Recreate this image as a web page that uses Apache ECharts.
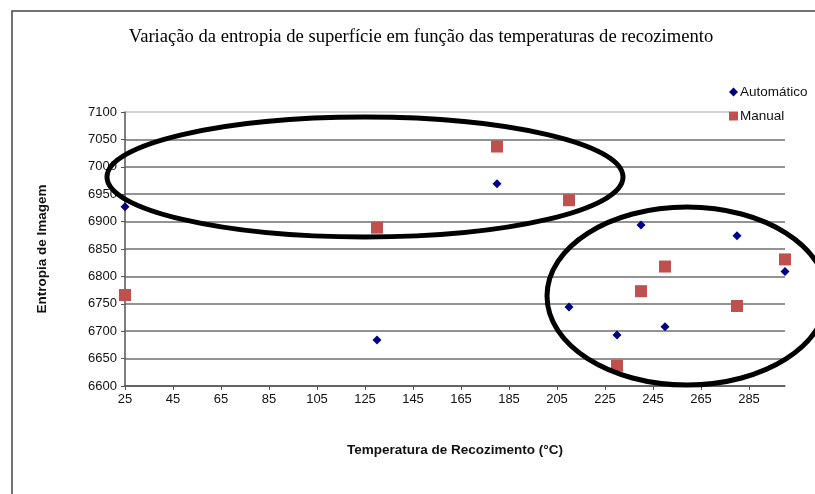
<!DOCTYPE html>
<html>
<head>
<meta charset="utf-8">
<script src="https://cdn.jsdelivr.net/npm/echarts@6/dist/echarts.min.js"></script>
<style>
  html, body { margin: 0; padding: 0; background: #fff; }
  #chart { width: 815px; height: 494px; }
</style>
</head>
<body>
<div id="chart"></div>
<script>
// temperaturas de recozimento (°C)
var temperaturas = [25, 130, 180, 210, 230, 240, 250, 280, 300];
// entropia por série
var automatico = [6927, 6684, 6969, 6744, 6693, 6894, 6708, 6874, 6809];
var manual = [6766, 6889, 7037, 6939, 6637, 6773, 6818, 6746, 6831];

function pares(xs, ys) {
  return xs.map(function (x, i) { return [x, ys[i]]; });
}

var chart = echarts.init(document.getElementById("chart"));

var fonteEixo = { fontFamily: "Liberation Sans", fontSize: 13, color: "#111" };

// linhas de grade: escuras, a de cima (7100) mais clara
var coresGrade = ["#6f6f6f", "#6f6f6f", "#6f6f6f", "#6f6f6f", "#6f6f6f", "#6f6f6f",
  "#6f6f6f", "#6f6f6f", "#6f6f6f", "#6f6f6f", "#c4c4c4"];

var option = {
  animation: false,
  backgroundColor: "#fff",
  title: {
    text: "Variação da entropia de superfície em função das temperaturas de recozimento",
    left: 416,
    textAlign: "center",
    top: 23,
    textStyle: {
      fontFamily: "Liberation Serif",
      fontWeight: "normal",
      fontSize: 18.6,
      color: "#000"
    }
  },
  legend: {
    orient: "vertical",
    left: 729,
    top: 83,
    padding: [2, 0, 2, 0],
    backgroundColor: "#fff",
    itemGap: 10,
    itemWidth: 9,
    itemHeight: 9,
    textStyle: { fontFamily: "Liberation Sans", fontSize: 13.5, color: "#111", padding: [0, 0, 0, -3] },
    data: [
      { name: "Automático", icon: "diamond" },
      { name: "Manual", icon: "rect" }
    ],
    z: 4
  },
  grid: { left: 125, right: 30, top: 112, bottom: 108 },
  xAxis: {
    type: "value",
    min: 25,
    max: 300,
    interval: 20,
    name: "Temperatura de Recozimento (°C)",
    nameLocation: "middle",
    nameGap: 57,
    nameTextStyle: { fontFamily: "Liberation Sans", fontWeight: "bold", fontSize: 13.5, color: "#111" },
    axisLine: { lineStyle: { color: "#555", width: 1.5 } },
    axisTick: { show: true, length: 4, lineStyle: { color: "#555" } },
    axisLabel: Object.assign({ showMaxLabel: false, margin: 7 }, fonteEixo),
    splitLine: { show: false }
  },
  yAxis: {
    type: "value",
    min: 6600,
    max: 7100,
    interval: 50,
    name: "Entropia de Imagem",
    nameLocation: "middle",
    nameGap: 76,
    nameTextStyle: { fontFamily: "Liberation Sans", fontWeight: "bold", fontSize: 13.5, color: "#111" },
    axisLine: { show: true, lineStyle: { color: "#555", width: 1.5 } },
    axisTick: { show: true, length: 4, lineStyle: { color: "#555" } },
    axisLabel: Object.assign({ margin: 8, formatter: function (v) { return String(v); } }, fonteEixo),
    splitLine: { show: true, lineStyle: { color: coresGrade, width: 1.5 } }
  },
  series: [
    {
      name: "Automático",
      type: "scatter",
      symbol: "diamond",
      symbolSize: 9,
      itemStyle: { color: "#000080", opacity: 1 },
      data: pares(temperaturas, automatico),
      z: 3
    },
    {
      name: "Manual",
      type: "scatter",
      symbol: "rect",
      symbolSize: 12,
      itemStyle: { color: "#C0504D", opacity: 1 },
      data: pares(temperaturas, manual),
      z: 3
    }
  ],
  graphic: [
    // moldura do gráfico
    { type: "polyline", shape: { points: [[12, 494], [12, 11], [815, 11]] },
      style: { stroke: "#444", lineWidth: 1.5, fill: null }, silent: true },
    // elipses de destaque
    { type: "ellipse", shape: { cx: 365, cy: 177, rx: 258, ry: 60 },
      style: { stroke: "#000", lineWidth: 5, fill: null }, z: 10, silent: true },
    { type: "ellipse", shape: { cx: 687, cy: 296, rx: 140, ry: 89 },
      style: { stroke: "#000", lineWidth: 5, fill: null }, z: 10, silent: true }
  ]
};

chart.setOption(option);
</script>
</body>
</html>
